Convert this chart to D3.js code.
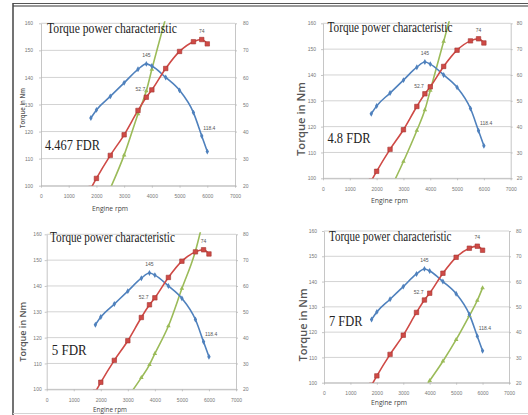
<!DOCTYPE html>
<html>
<head>
<meta charset="utf-8">
<script src="https://cdn.jsdelivr.net/npm/d3@7"></script>
<style>
  html, body { margin: 0; padding: 0; background: #fff; }
  svg { display: block; }
</style>
</head>
<body>
<script>
// ---------------- DATA ----------------
const rpm = [1800, 2000, 2500, 3000, 3500, 3800, 4000, 4500, 5000, 5500, 5800, 6000];
const torqueNm = [125, 128, 133, 138, 143, 145, 144.2, 140, 135.2, 127, 118.4, 112.6];
const powerKw = [19, 22.7, 31.2, 38.8, 47.8, 52.7, 55.4, 63.3, 69.6, 73.2, 74, 72.4];

const green1Rpm = [2500, 3000, 3500, 3800, 4000, 4500];
const green1 = [99, 111.3, 126.5, 135, 143, 162];
const green2Rpm = [2500, 3000, 3500, 3800, 4000, 4500, 5000];
const green2 = [95.5, 106.5, 118.5, 126.5, 134, 153, 172];
const green3Rpm = [3000, 3500, 3800, 4000, 4500, 5000, 5500, 5800];
const green3 = [97, 104.5, 109.5, 113.8, 124.5, 139, 153.5, 166];
const green4Rpm = [3800, 4000, 4500, 5000, 5500, 5800, 6000];
const green4 = [97.7, 100.8, 108.5, 117, 126.5, 132.5, 137.5];

const fdrLabels = ["4.467 FDR", "4.8 FDR", "5 FDR", "7 FDR"];
const chartTitle = "Torque power characteristic";
const yTitle = "Torque in Nm";
const xTitle = "Engine rpm";
const xTicks = [0, 1000, 2000, 3000, 4000, 5000, 6000, 7000];
const leftTicks = [100, 110, 120, 130, 140, 150, 160];
const rightTicks = [20, 30, 40, 50, 60, 70, 80];
const annoTorque = [[3800, "145"], [5800, "118.4"]];
const annoPower = [[3800, "52.7"], [5800, "74"]];

// ---------------- LAYOUT ----------------
const greens = [[green1Rpm, green1], [green2Rpm, green2], [green3Rpm, green3], [green4Rpm, green4]];
const panels = [
  { x0: 41, x1: 235, yt: 23.3, yb: 185.7, lp: 6, rp: 6, bp: 7,
    title: [47, 33, 130], fdr: [45, 150, 55], yT: [22, 108, 40, 7], xT: [110, 208, 36] },
  { x0: 323, x1: 510.7, yt: 23.3, yb: 178.3, lp: 5, rp: 4, bp: 7,
    title: [327.5, 32.3, 125], fdr: [327.5, 142.7, 43], yT: [301, 119, 74, 10], xT: [389.5, 199.5, 37] },
  { x0: 46.7, x1: 236, yt: 234.3, yb: 389.3, lp: 3, rp: 5, bp: 7,
    title: [50, 242.3, 125], fdr: [51.7, 355, 35], yT: [23, 331.7, 60, 9], xT: [110, 408.5, 34] },
  { x0: 324, x1: 509, yt: 231, yb: 382.7, lp: 5, rp: 5, bp: 6.5,
    title: [329, 240.7, 122.5], fdr: [329, 325.7, 33.5], yT: [303, 325, 73, 10], xT: [389, 402, 36] }
];

const C_BLUE = "#4f81bd", C_RED = "#cf4a46", C_GREEN = "#9bbb59";
const SERIF = "'Liberation Serif', 'Times New Roman', serif";
const SANS = "'Open Sans', 'Liberation Sans', sans-serif";
const SMALL = "'Liberation Sans', Arial, sans-serif";

const W = 528, H = 415;
const svg = d3.select("body").append("svg").attr("width", W).attr("height", H);
const defs = svg.append("defs");

// frame
svg.append("line").attr("x1", 13).attr("x2", W).attr("y1", 3.5).attr("y2", 3.5)
  .attr("stroke", "#555").attr("stroke-width", 1);
svg.append("line").attr("x1", 13).attr("x2", W).attr("y1", 6).attr("y2", 6)
  .attr("stroke", "#777").attr("stroke-width", 1.5);
svg.append("line").attr("x1", 13).attr("x2", 13).attr("y1", 3).attr("y2", H)
  .attr("stroke", "#444").attr("stroke-width", 1.5);
svg.append("line").attr("x1", 13).attr("x2", W).attr("y1", 413.5).attr("y2", 413.5)
  .attr("stroke", "#d4d4d4").attr("stroke-width", 1);

function styleAxis(g) {
  g.select(".domain").attr("stroke", "#b8b8b8").attr("stroke-width", 0.8);
  g.selectAll(".tick line").attr("stroke", "#b8b8b8").attr("stroke-width", 0.8);
  g.selectAll(".tick text").attr("font-size", 5).attr("fill", "#777").attr("font-family", SMALL);
}

// text squeezed horizontally to a target width (as in the reference picture)
function squeezed(parent, txt, x, y, target, opts) {
  const t = parent.append("text").attr("font-family", opts.family).attr("font-size", opts.size)
    .attr("fill", opts.fill).attr("font-weight", opts.weight || 400)
    .attr("text-anchor", opts.anchor || "start")
    .attr("dominant-baseline", opts.baseline || "auto").text(txt);
  const w = t.node().getComputedTextLength() || target;
  const sx = target / w;
  t.attr("transform", `translate(${x},${y})${opts.rotate ? " rotate(" + opts.rotate + ")" : ""} scale(${sx},1)`);
  return t;
}

panels.forEach((p, i) => {
  const x = d3.scaleLinear().domain([0, 7000]).range([p.x0, p.x1]);
  const yL = d3.scaleLinear().domain([100, 160]).range([p.yb, p.yt]);
  const yR = d3.scaleLinear().domain([20, 80]).range([p.yb, p.yt]);
  const g = svg.append("g");

  g.selectAll("line.grid").data(leftTicks).join("line").attr("class", "grid")
    .attr("x1", p.x0).attr("x2", p.x1).attr("y1", d => yL(d)).attr("y2", d => yL(d))
    .attr("stroke", "#d3d3d3").attr("stroke-width", 1);

  g.append("g").attr("transform", `translate(${p.x0},0)`)
    .call(d3.axisLeft(yL).tickValues(leftTicks).tickSize(2).tickSizeOuter(0).tickPadding(p.lp))
    .call(styleAxis);
  g.append("g").attr("transform", `translate(${p.x1},0)`)
    .call(d3.axisRight(yR).tickValues(rightTicks).tickSize(2).tickSizeOuter(0).tickPadding(p.rp))
    .call(styleAxis);
  g.append("g").attr("transform", `translate(0,${p.yb})`)
    .call(d3.axisBottom(x).tickValues(xTicks).tickSize(2).tickSizeOuter(0).tickPadding(p.bp).tickFormat(d3.format("d")))
    .call(styleAxis);

  defs.append("clipPath").attr("id", "clip" + i).append("rect")
    .attr("x", p.x0 - 4).attr("y", p.yt - 2).attr("width", p.x1 - p.x0 + 8).attr("height", p.yb - p.yt + 2);
  const s = g.append("g").attr("clip-path", `url(#clip${i})`);

  const tData = rpm.map((r, k) => [r, torqueNm[k]]);
  const pData = rpm.map((r, k) => [r, powerKw[k]]);
  const gData = greens[i][0].map((r, k) => [r, greens[i][1][k]]);

  const lineL = d3.line().x(d => x(d[0])).y(d => yL(d[1])).curve(d3.curveMonotoneX);
  const lineR = d3.line().x(d => x(d[0])).y(d => yR(d[1])).curve(d3.curveMonotoneX);

  s.append("path").datum(gData).attr("d", lineL).attr("fill", "none")
    .attr("stroke", C_GREEN).attr("stroke-width", 1.6);
  s.append("path").datum(tData).attr("d", lineL).attr("fill", "none")
    .attr("stroke", C_BLUE).attr("stroke-width", 1.6);
  s.append("path").datum(pData).attr("d", lineR).attr("fill", "none")
    .attr("stroke", C_RED).attr("stroke-width", 1.6);

  s.selectAll("path.gm").data(gData).join("path").attr("class", "gm")
    .attr("transform", d => `translate(${x(d[0])},${yL(d[1])})`)
    .attr("d", d3.symbol(d3.symbolTriangle, 9)).attr("fill", C_GREEN);
  s.selectAll("path.bm").data(tData).join("path").attr("class", "bm")
    .attr("transform", d => `translate(${x(d[0])},${yL(d[1])})`)
    .attr("d", d3.symbol(d3.symbolDiamond, 10)).attr("fill", C_BLUE);
  s.selectAll("path.rm").data(pData).join("path").attr("class", "rm")
    .attr("transform", d => `translate(${x(d[0])},${yR(d[1])})`)
    .attr("d", d3.symbol(d3.symbolSquare, 20)).attr("fill", C_RED).attr("stroke", "#a33532").attr("stroke-width", 0.6);

  annoTorque.forEach(([r, t]) => {
    const k = rpm.indexOf(r);
    const peak = t === "145";
    g.append("text").attr("x", x(r) + (peak ? 0 : 1.5)).attr("y", yL(torqueNm[k]) - (peak ? 7 : 6))
      .attr("text-anchor", peak ? "middle" : "start").attr("font-size", 5).attr("fill", "#555")
      .attr("font-family", SMALL).text(t);
  });
  annoPower.forEach(([r, t]) => {
    const k = rpm.indexOf(r);
    const peak = t === "74";
    g.append("text").attr("x", x(r) - (peak ? 0 : 1)).attr("y", yR(powerKw[k]) - (peak ? 7 : 6))
      .attr("text-anchor", peak ? "middle" : "end").attr("font-size", 5).attr("fill", "#555")
      .attr("font-family", SMALL).text(t);
  });

  squeezed(g, chartTitle, p.title[0], p.title[1], p.title[2], { family: SERIF, size: 14, fill: "#222" });
  squeezed(g, fdrLabels[i], p.fdr[0], p.fdr[1], p.fdr[2], { family: SERIF, size: 15, fill: "#222" });
  squeezed(g, yTitle, p.yT[0], p.yT[1], p.yT[2],
    { family: SANS, size: p.yT[3], fill: "#555", weight: 600, anchor: "middle", baseline: "central", rotate: -90 });
  squeezed(g, xTitle, p.xT[0], p.xT[1], p.xT[2],
    { family: SANS, size: 8, fill: "#444", anchor: "middle", baseline: "central" });
});
</script>
</body>
</html>
